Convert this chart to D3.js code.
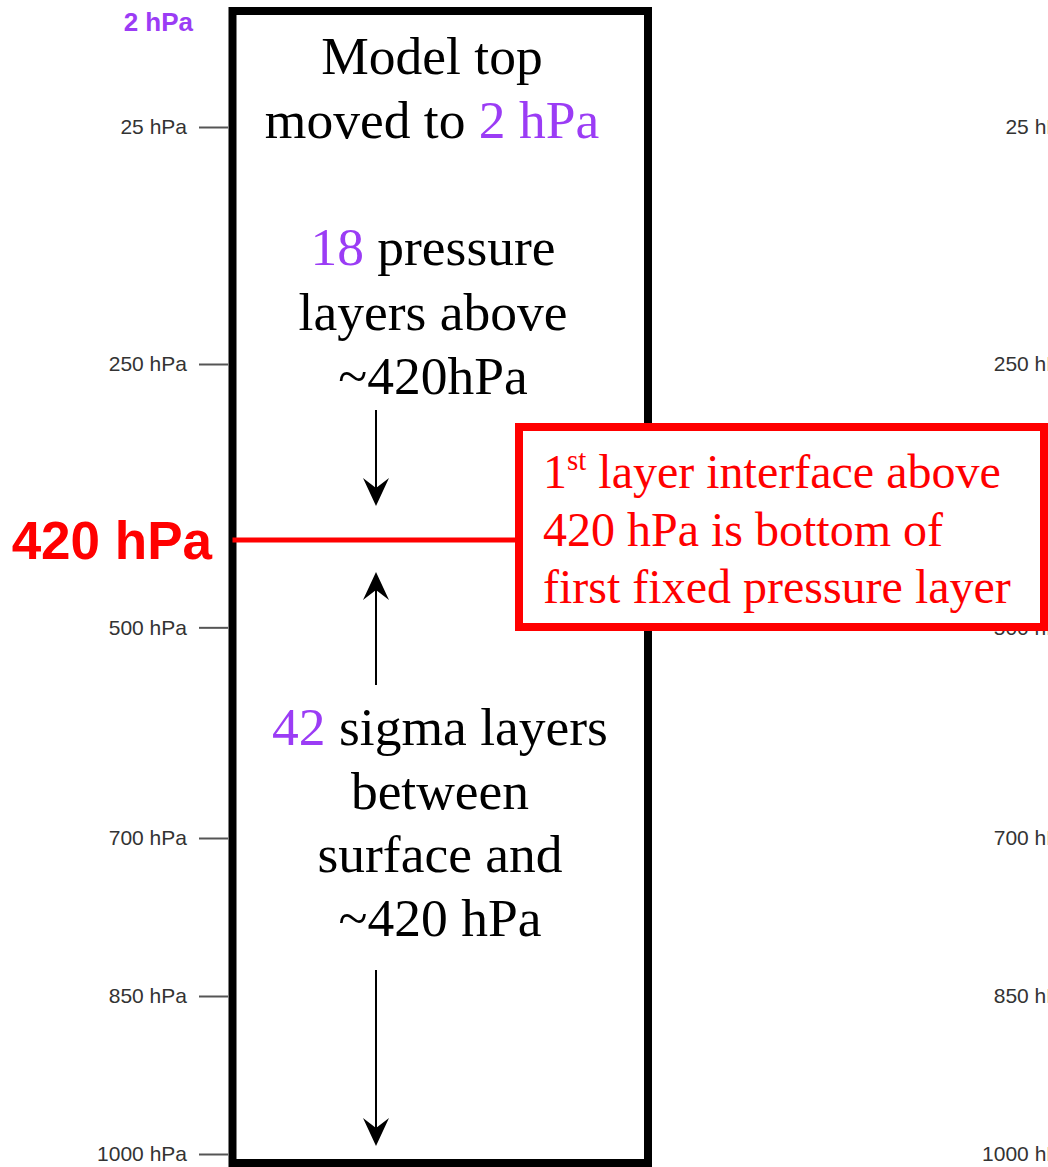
<!DOCTYPE html>
<style>
  body { margin: 0; background: #fff; }
  svg { display: block; }
</style>
<body></body>
<script src="https://cdn.jsdelivr.net/npm/d3@7"></script>
<script>
  const width = 1048
  const height = 1167

  // pressure levels shown as ticks
  const tickLevels = [25, 250, 500, 700, 850, 1000]
  const interfaceLevel = 420
  const modelTop = 2
  const pressureLayers = 18
  const sigmaLayers = 42

  const purple = "#9b3cf5"
  const red = "#ff0000"

  // text blocks inside the column (purple number goes first where given)
  const topLines = [
    [["Model top", "#000"]],
    [["moved to ", "#000"], [`${modelTop} hPa`, purple]]
  ]
  const upperLines = [
    [[`${pressureLayers}`, purple], [" pressure", "#000"]],
    [["layers above", "#000"]],
    [["~420hPa", "#000"]]
  ]
  const lowerLines = [
    [[`${sigmaLayers}`, purple], [" sigma layers", "#000"]],
    [["between", "#000"]],
    [["surface and", "#000"]],
    [["~420 hPa", "#000"]]
  ]
  const noteLines = [
    "layer interface above",
    "420 hPa is bottom of",
    "first fixed pressure layer"
  ]

  const y = d3.scaleLinear()
    .domain([25, 1000])
    .range([127, 1154])

  const svg = d3.select("body")
    .append("svg")
    .attr("width", width)
    .attr("height", height)

  // left axis and its copy that runs off the right edge
  function drawAxis(x) {
    const g = svg.append("g")
      .attr("transform", `translate(${x},0)`)
      .call(d3.axisLeft(y)
        .tickValues(tickLevels)
        .tickFormat(d => `${d} hPa`)
        .tickSize(29)
        .tickPadding(12))
    g.select(".domain").remove()
    g.selectAll(".tick line").attr("stroke", "#555").attr("stroke-width", 2)
    g.selectAll(".tick text")
      .attr("fill", "#333")
      .style("font-family", "'Liberation Sans', Arial, sans-serif")
      .style("font-size", "21px")
  }
  drawAxis(228)
  drawAxis(228 + 885)

  // column box
  const box = { x0: 232.5, x1: 648, y0: 11, y1: 1163 }
  svg.append("rect")
    .attr("x", box.x0)
    .attr("y", box.y0)
    .attr("width", box.x1 - box.x0)
    .attr("height", box.y1 - box.y0)
    .attr("fill", "none")
    .attr("stroke", "#000")
    .attr("stroke-width", 8)

  svg.append("text")
    .attr("x", 193)
    .attr("y", 31)
    .attr("text-anchor", "end")
    .attr("fill", purple)
    .style("font-family", "'Liberation Sans', Arial, sans-serif")
    .style("font-weight", "bold")
    .style("font-size", "26px")
    .text(`${modelTop} hPa`)

  // 420 hPa interface
  const yi = y(interfaceLevel) - 3
  svg.append("line")
    .attr("x1", box.x0)
    .attr("x2", 519)
    .attr("y1", yi)
    .attr("y2", yi)
    .attr("stroke", red)
    .attr("stroke-width", 5)

  svg.append("text")
    .attr("x", 212)
    .attr("y", yi + 19)
    .attr("text-anchor", "end")
    .attr("fill", red)
    .style("font-family", "'Liberation Sans', Arial, sans-serif")
    .style("font-weight", "bold")
    .style("font-size", "53px")
    .text(`${interfaceLevel} hPa`)

  function block(lines, cx, baseline0, step) {
    lines.forEach((parts, i) => {
      const t = svg.append("text")
        .attr("x", cx)
        .attr("y", baseline0 + i * step)
        .attr("text-anchor", "middle")
        .style("font-family", "'Liberation Serif', 'Times New Roman', serif")
        .style("font-size", "53.5px")
      parts.forEach(([s, c]) => t.append("tspan").attr("fill", c).text(s))
    })
  }
  block(topLines, 432, 74, 63.5)
  block(upperLines, 433, 265, 64.5)
  block(lowerLines, 440, 745, 63.7)

  // arrows: stem plus a notched filled head
  const arrows = [
    { from: 410, to: yi - 34 },
    { from: 685, to: yi + 32 },
    { from: 970, to: 1146 }
  ]
  const ax = 376
  const arrow = svg.selectAll("g.arrow")
    .data(arrows)
    .enter()
    .append("g")
    .classed("arrow", true)

  arrow.append("line")
    .attr("x1", ax)
    .attr("x2", ax)
    .attr("y1", d => d.from)
    .attr("y2", d => d.to + (d.to > d.from ? -15 : 15))
    .attr("stroke", "#000")
    .attr("stroke-width", 2)

  arrow.append("path")
    .attr("d", "M0,0 L-13,-28 L0,-18 L13,-28 Z")
    .attr("fill", "#000")
    .attr("transform", d => `translate(${ax},${d.to}) rotate(${d.to > d.from ? 0 : 180})`)

  // note box
  svg.append("rect")
    .attr("x", 519)
    .attr("y", 427)
    .attr("width", 1044 - 519)
    .attr("height", 627 - 427)
    .attr("fill", "#fff")
    .attr("stroke", red)
    .attr("stroke-width", 8)

  const note = svg.append("g")
    .attr("fill", red)
    .style("font-family", "'Liberation Serif', 'Times New Roman', serif")
    .style("font-size", "48px")

  noteLines.forEach((s, i) => {
    const t = note.append("text")
      .attr("x", 543)
      .attr("y", 488 + i * 57.5)
    if (i === 0) {
      t.append("tspan").text("1")
      t.append("tspan").attr("dy", -18).style("font-size", "29px").text("st")
      t.append("tspan").attr("dy", 18).text(" " + s)
    } else {
      t.text(s)
    }
  })
</script>
